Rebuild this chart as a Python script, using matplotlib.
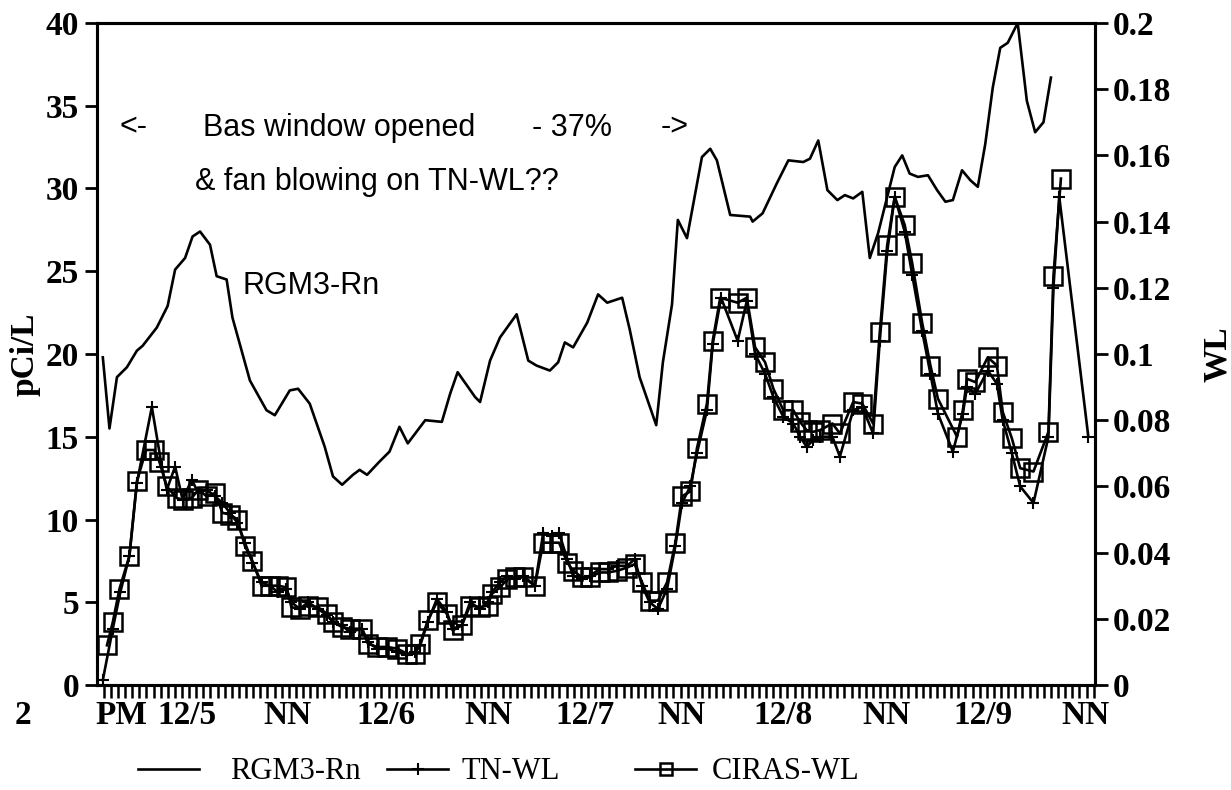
import matplotlib.pyplot as plt
import numpy as np
from matplotlib.ticker import FixedLocator, NullFormatter

# ==========================================================
# Data (hours after 2 PM 12/4; Rn in pCi/L, WL on right axis)
# ==========================================================

rgm3_hours = [-0.1, 0.7, 1.6, 2.8, 4.0, 4.7, 6.4, 7.7, 8.6, 9.8, 10.7, 11.6,
              12.8, 13.6, 14.8, 15.5, 17.6, 19.6, 20.6, 22.4, 23.4, 24.8,
              26.6, 27.6, 28.7, 30.0, 30.8, 31.7, 33.2, 34.4, 35.6, 36.6,
              37.8, 38.7, 40.7, 41.7, 42.6, 44.7, 45.3, 46.5, 47.7, 49.7,
              51.1, 52.1, 53.7, 54.7, 55.5, 56.5, 58.2, 59.5, 60.6, 62.4,
              63.3, 64.5, 66.5, 67.3, 68.4, 69.1, 70.2, 72.0, 73.0, 73.8,
              75.4, 77.8, 78.1, 79.3, 81.0, 82.4, 84.2, 85.0, 86.0, 87.1,
              88.3, 89.2, 90.2, 91.3, 92.2, 93.2, 94.4, 95.2, 96.1, 97.0,
              98.0, 99.2, 100.3, 101.3, 102.2, 103.3, 104.3, 105.2, 106.1,
              107.0, 107.9, 108.8, 110.0, 111.1, 112.1, 113.1, 114.0]
rgm3_pci = [19.8, 15.5, 18.6, 19.2, 20.2, 20.5, 21.6, 22.9, 25.1, 25.8, 27.1,
            27.4, 26.6, 24.7, 24.5, 22.2, 18.4, 16.6, 16.3, 17.8, 17.9, 17.0,
            14.4, 12.6, 12.1, 12.7, 13.0, 12.7, 13.5, 14.1, 15.6, 14.6, 15.4,
            16.0, 15.9, 17.6, 18.9, 17.4, 17.1, 19.6, 21.0, 22.4, 19.6, 19.3,
            19.0, 19.5, 20.7, 20.4, 21.9, 23.6, 23.1, 23.4, 21.5, 18.6, 15.7,
            19.5, 23.0, 28.1, 27.0, 31.9, 32.4, 31.7, 28.4, 28.3, 28.0, 28.5,
            30.3, 31.7, 31.6, 31.8, 32.9, 29.9, 29.3, 29.6, 29.4, 29.8, 25.8,
            27.3, 29.7, 31.3, 32.0, 30.9, 30.7, 30.8, 29.9, 29.2, 29.3, 31.1,
            30.5, 30.1, 32.7, 36.1, 38.5, 38.8, 40.0, 35.3, 33.4, 34.0, 36.7]

tn_hours = [-0.1, 1.1, 2.0, 3.1, 4.0, 5.8, 7.0, 7.6, 8.6, 9.5, 10.6, 11.4,
            12.4, 13.4, 14.3, 15.2, 16.1, 17.0, 17.9, 19.0, 20.0, 21.0, 22.0,
            22.6, 23.6, 24.6, 25.8, 26.9, 27.6, 28.7, 29.6, 31.1, 31.8, 32.9,
            34.1, 35.3, 36.5, 37.5, 38.1, 39.0, 40.1, 41.3, 42.0, 43.1, 44.1,
            45.3, 46.2, 46.7, 47.7, 48.6, 49.5, 50.5, 51.9, 52.9, 53.9, 54.8,
            55.8, 56.5, 57.6, 58.5, 59.7, 60.7, 61.8, 63.0, 63.9, 64.8, 65.7,
            66.7, 67.8, 68.8, 69.6, 70.6, 71.4, 72.6, 73.3, 74.3, 76.3, 77.4,
            78.4, 79.6, 80.6, 81.8, 83.0, 83.8, 84.6, 85.4, 86.2, 87.7, 88.6,
            90.2, 91.3, 92.6, 93.4, 94.3, 95.2, 96.4, 97.3, 98.5, 99.5, 100.4,
            102.2, 103.4, 103.9, 104.9, 106.4, 107.5, 108.2, 109.3, 110.3,
            111.9, 113.7, 114.3, 115.0, 118.5]
tn_wl = [0.0015, 0.017, 0.028, 0.039, 0.061, 0.084, 0.066, 0.059, 0.066,
         0.056, 0.062, 0.058, 0.059, 0.057, 0.055, 0.052, 0.049, 0.043, 0.037,
         0.031, 0.030, 0.028, 0.029, 0.025, 0.023, 0.025, 0.023, 0.021, 0.019,
         0.018, 0.016, 0.017, 0.013, 0.011, 0.011, 0.010, 0.009, 0.010, 0.012,
         0.019, 0.026, 0.022, 0.017, 0.018, 0.025, 0.023, 0.025, 0.028, 0.031,
         0.033, 0.032, 0.033, 0.030, 0.046, 0.045, 0.046, 0.038, 0.033, 0.032,
         0.033, 0.035, 0.035, 0.036, 0.036, 0.038, 0.030, 0.025, 0.023, 0.029,
         0.042, 0.055, 0.060, 0.070, 0.083, 0.103, 0.117, 0.104, 0.116, 0.100,
         0.094, 0.087, 0.081, 0.079, 0.075, 0.072, 0.074, 0.075, 0.075, 0.069,
         0.083, 0.084, 0.076, 0.104, 0.131, 0.1475, 0.137, 0.124, 0.107, 0.094,
         0.082, 0.0705, 0.082, 0.090, 0.088, 0.095, 0.091, 0.080, 0.070, 0.060,
         0.055, 0.075, 0.120, 0.1475, 0.075]

ciras_hours = [0.4, 1.1, 1.9, 3.1, 4.0, 5.1, 6.1, 6.7, 7.6, 8.8, 9.5, 10.6,
               11.4, 12.4, 13.4, 14.3, 15.2, 16.1, 17.0, 17.9, 19.0, 20.0,
               21.0, 22.0, 22.6, 23.6, 24.6, 25.8, 26.9, 27.6, 28.7, 29.6,
               31.1, 31.8, 32.9, 34.1, 35.3, 36.5, 37.5, 38.1, 39.0, 40.1,
               41.3, 42.0, 43.1, 44.1, 45.3, 46.2, 46.7, 47.7, 48.6, 49.5,
               50.5, 51.9, 52.9, 53.9, 54.8, 55.8, 56.5, 57.6, 58.5, 59.7,
               60.7, 61.8, 63.0, 63.9, 64.8, 65.7, 66.7, 67.8, 68.8, 69.6,
               70.6, 71.4, 72.6, 73.3, 74.2, 76.3, 77.4, 78.4, 79.6, 80.6,
               81.8, 83.0, 83.8, 84.6, 85.4, 86.2, 87.7, 88.6, 90.2, 91.3,
               92.6, 93.4, 94.3, 95.2, 96.4, 97.3, 98.5, 99.5, 100.4, 102.7,
               103.4, 103.9, 104.9, 106.4, 107.5, 108.2, 109.3, 110.3, 111.9,
               113.7, 114.3, 115.2]
ciras_wl = [0.012, 0.019, 0.029, 0.039, 0.0615, 0.071, 0.071, 0.0675, 0.060,
            0.0565, 0.056, 0.0565, 0.059, 0.057, 0.058, 0.052, 0.0515, 0.050,
            0.042, 0.0375, 0.030, 0.030, 0.030, 0.0295, 0.0235, 0.023, 0.024,
            0.0235, 0.0215, 0.019, 0.0175, 0.017, 0.017, 0.0125, 0.0115,
            0.0115, 0.011, 0.0095, 0.0095, 0.0125, 0.0195, 0.025, 0.0215,
            0.0165, 0.018, 0.024, 0.0235, 0.024, 0.0275, 0.0295, 0.032,
            0.0325, 0.0325, 0.030, 0.043, 0.043, 0.043, 0.037, 0.0345, 0.0325,
            0.0325, 0.034, 0.034, 0.0345, 0.0355, 0.0365, 0.031, 0.0255,
            0.0255, 0.031, 0.043, 0.057, 0.0585, 0.0715, 0.085, 0.104, 0.117,
            0.1155, 0.117, 0.102, 0.0975, 0.0895, 0.083, 0.083, 0.0795, 0.077,
            0.0765, 0.077, 0.079, 0.076, 0.0855, 0.085, 0.079, 0.1065, 0.133,
            0.1475, 0.139, 0.1275, 0.1095, 0.0965, 0.0865, 0.075, 0.083,
            0.0925, 0.0915, 0.099, 0.0965, 0.0825, 0.0745, 0.0655, 0.0645,
            0.0765, 0.1235, 0.153]

x_labels = ["2", "PM", "12/5", "NN", "12/6", "NN", "12/7", "NN", "12/8", "NN",
            "12/9", "NN"]
x_label_hours = [-9.7, 2.2, 10.0, 22.1, 34.0, 46.3, 57.9, 69.5, 81.8, 94.2,
                 105.8, 118.2]

left_ticks = [0, 5, 10, 15, 20, 25, 30, 35, 40]
right_ticks = [0, 0.02, 0.04, 0.06, 0.08, 0.1, 0.12, 0.14, 0.16, 0.18, 0.2]
right_tick_labels = ["0", "0.02", "0.04", "0.06", "0.08", "0.1", "0.12",
                     "0.14", "0.16", "0.18", "0.2"]

# ==========================================================
# Figure
# ==========================================================

SERIF = "Liberation Serif"
SANS = "Liberation Sans"
LW = 1.9
TICK_FONT = dict(family=SERIF, fontsize=24, fontweight="bold")

fig = plt.figure(figsize=(12.31, 7.90), dpi=100)
ax = fig.add_axes([0.0788, 0.1329, 0.8107, 0.838])
ax2 = ax.twinx()

ax.plot(rgm3_hours, rgm3_pci, color="black", lw=LW, label="RGM3-Rn")
ax2.plot(tn_hours, tn_wl, color="black", lw=LW, marker="+", ms=8, mew=1.5,
         label="TN-WL")
ax2.plot(ciras_hours, ciras_wl, color="black", lw=LW, marker="s", ms=13,
         mfc="none", mew=1.8, label="CIRAS-WL")

x0, x1 = -0.8, 119.3
ax.set_xlim(x0, x1)
ax.set_ylim(0, 40)
ax2.set_ylim(0, 0.2)

for a in (ax, ax2):
    for s in a.spines.values():
        s.set_linewidth(2.2)

ax.set_yticks(left_ticks)
ax.set_yticklabels([str(t) for t in left_ticks], **TICK_FONT)
ax2.set_yticks(right_ticks)
ax2.set_yticklabels(right_tick_labels, **TICK_FONT)
ax.tick_params(axis="y", direction="out", length=9, width=2, pad=4)
ax2.tick_params(axis="y", direction="out", length=9, width=2, pad=4)

# dense minor ticks along the time axis, text labels placed by hand
ax.xaxis.set_major_locator(FixedLocator(np.arange(x0 + 0.8, x1, 12 / 14)))
ax.xaxis.set_major_formatter(NullFormatter())
ax.tick_params(axis="x", direction="out", length=9, width=1.8)
for lab, h in zip(x_labels, x_label_hours):
    ax.text(h, -0.022, lab, transform=ax.get_xaxis_transform(),
            ha="center", va="top", clip_on=False, **TICK_FONT)

ax.set_ylabel("pCi/L", family=SERIF, fontsize=24, fontweight="bold",
              labelpad=4)
ax2.set_ylabel("WL", family=SERIF, fontsize=24, fontweight="bold",
               rotation=90, labelpad=22)

# annotations
ANNO = dict(family=SANS, fontsize=22, va="baseline")
ax.text(1.9, 33.2, "<-", **ANNO)
ax.text(11.9, 33.2, "Bas window opened", **ANNO)
ax.text(51.5, 33.2, "- 37%", **ANNO)
ax.text(67.0, 33.2, "->", **ANNO)
ax.text(11.0, 29.9, "& fan blowing on TN-WL??", **ANNO)
ax.text(16.7, 23.6, "RGM3-Rn", **ANNO)

# legend entries below the plot, each placed on its own
handles = ax.get_lines() + ax2.get_lines()
legend_x = [138 / 1231, 387 / 1231, 635 / 1231]
legend_pad = [1.0, 0.45, 0.5]
for h, lx, pad in zip(handles, legend_x, legend_pad):
    leg = fig.legend(handles=[h], loc="center left",
                     bbox_to_anchor=(lx, 0.0228), frameon=False,
                     prop={"family": SERIF, "size": 22},
                     handlelength=2.0, handletextpad=pad, borderpad=0,
                     borderaxespad=0)
    for lh in leg.legend_handles:
        lh.set_markersize(8)

plt.savefig("out.png", dpi=100)
plt.close()
